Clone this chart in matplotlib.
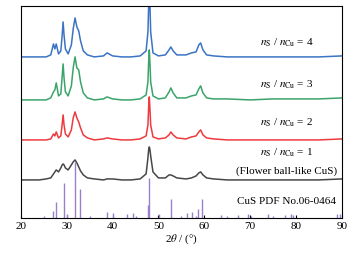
import matplotlib.pyplot as plt
import numpy as np

plt.rcParams['font.family'] = ['Liberation Serif', 'DejaVu Serif']
plt.rcParams['mathtext.fontset'] = 'stix'

# 2theta grid shared by the four patterns
two_theta = [20, 22, 24, 25.5, 26.5, 27.1, 27.4, 27.7, 28.2, 28.7, 29.0, 29.2, 29.4, 29.7, 30.3,
             31.0, 31.4, 31.8, 32.2, 32.6, 33.0, 33.6, 34.5, 36, 38, 38.8, 40, 42,
             44, 46, 47.3, 47.7, 47.85, 48.0, 48.15, 48.3, 48.8, 50, 51.5, 52.3, 52.7, 53.2, 54,
             56, 57.2, 58.2, 58.8, 59.2, 59.7, 60.5, 62, 65, 70, 75, 80, 85, 90]

# intensities above each pattern's own baseline
int_r4 = [0, 0, 0, 0, 2, 13, 8, 13, 3, 6, 22, 35, 22, 8, 3,
          12, 28, 39, 30, 26, 16, 6, 2, 0, 1, 4, 1, 0,
          0, 1, 6, 25, 50, 70, 50, 25, 4, 1, 2, 7, 10, 6, 2,
          2, 4, 5, 12, 14, 7, 2, 1, 0, 0, 0, 0, 0, 1]
int_r3 = [0, 0, 0, 0, 2, 8, 10, 17, 4, 6, 24, 36, 22, 8, 4,
          14, 32, 43, 32, 30, 18, 7, 2, 0, 1, 3, 1, 0,
          0, 1, 5, 18, 38, 50, 36, 18, 4, 1, 2, 8, 12, 7, 2,
          2, 4, 5, 11, 14, 7, 2, 1, 1, 0, 1, 1, 1, 2]
int_r2 = [0, 0, 0, 0, 1, 6, 4, 8, 2, 4, 16, 25, 15, 6, 3,
          10, 22, 28, 22, 18, 12, 5, 2, 0, 1, 2, 1, 0,
          0, 1, 4, 15, 32, 43, 30, 15, 3, 1, 2, 5, 8, 5, 2,
          1, 3, 4, 8, 10, 5, 2, 1, 0, 0, 0, 0, 0, 1]
int_r1 = [0, 0, 0, 1, 2, 6, 8, 10, 8, 12, 15, 16, 15, 12, 10,
          15, 18, 20, 17, 13, 9, 5, 2, 1, 0, 1, 1, 0,
          0, 1, 6, 22, 30, 33, 30, 24, 8, 2, 2, 5, 5, 4, 2,
          1, 2, 4, 7, 8, 5, 2, 1, 0, 0, 0, 0, 0, 1]

labels = [r"$n_{\rm S}$ / $n_{\rm Cu}$ = 4", r"$n_{\rm S}$ / $n_{\rm Cu}$ = 3",
          r"$n_{\rm S}$ / $n_{\rm Cu}$ = 2", r"$n_{\rm S}$ / $n_{\rm Cu}$ = 1"]

# CuS PDF No.06-0464 stick pattern
pdf_pos = [25.0, 27.1, 27.7, 29.3, 30.0, 31.8, 32.9, 35.0, 38.8, 40.0, 43.2, 44.4,
           45.0, 47.7, 47.95, 50.1, 52.7, 55.0, 56.2, 57.4, 58.1, 58.7, 59.4, 63.6,
           64.9, 67.4, 69.6, 70.1, 73.9, 75.0, 77.6, 79.0, 79.3, 89.0, 89.6]
pdf_int = [2, 7, 16, 35, 4, 56, 29, 2, 6, 5, 4, 5,
           2, 13, 40, 4, 19, 2, 5, 6, 2, 9, 19, 3,
           2, 3, 4, 2, 4, 2, 3, 4, 3, 4, 4]

offsets = [161, 118, 78, 38]
colors = ['#3b74c4', '#3aa46a', '#ee3a3e', '#474747']
series = [int_r4, int_r3, int_r2, int_r1]
label_y = [175, 133, 95, 65]

fig = plt.figure(figsize=(3.61, 2.57), dpi=100)
ax = fig.add_axes([0.058, 0.152, 0.889, 0.825])

for s, off, c in zip(series, offsets, colors):
    ax.plot(two_theta, np.array(s) + off, color=c, lw=1.1)

ax.vlines(pdf_pos, 0, pdf_int, color='#9b80c9', lw=1.0)

for lab, y in zip(labels, label_y):
    ax.text(78, y, lab, ha='center', va='center', fontsize=8)
ax.text(78, 47, "(Flower ball-like CuS)", ha='center', va='center', fontsize=8)
ax.text(78, 16, "CuS PDF No.06-0464", ha='center', va='center', fontsize=8)

ax.set_xlim(20, 90)
ax.set_ylim(0, 212)
ax.set_yticks([])
ax.set_xticks([20, 30, 40, 50, 60, 70, 80, 90])
ax.tick_params(axis='x', direction='in', length=2, labelsize=8, pad=3)
ax.set_xlabel(r"2$\theta$ / (°)", fontsize=8, labelpad=1)

fig.savefig("out.png", dpi=100)
